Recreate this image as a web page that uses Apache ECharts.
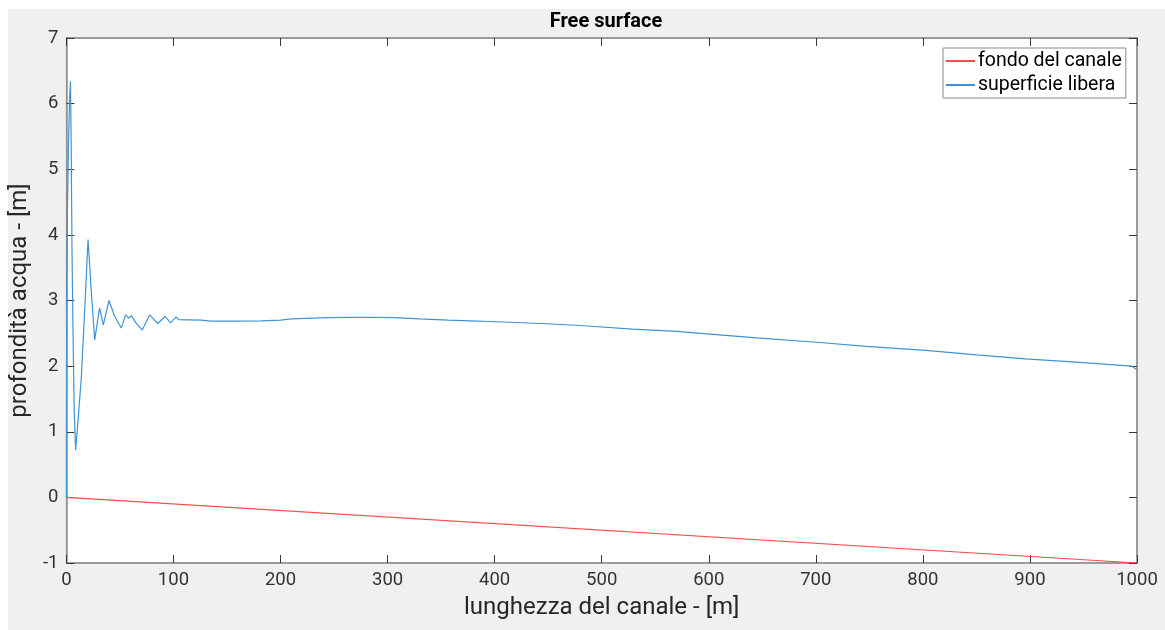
<!DOCTYPE html>
<html>
<head>
<meta charset="utf-8">
<script src="https://cdn.jsdelivr.net/npm/echarts@6/dist/echarts.min.js"></script>
<style>
html,body{margin:0;padding:0;background:#fff;}
#wrap{position:relative;width:1165px;height:630px;background:#fff;}
#bg{position:absolute;left:8px;top:9px;width:1157px;height:621px;background:#f0f0f0;}
#chart{position:absolute;left:0;top:0;width:1165px;height:630px;}
</style>
</head>
<body>
<div id="wrap"><div id="bg"></div><div id="chart"></div></div>
<script>
const titleText = 'Free surface';
const xName = 'lunghezza del canale - [m]';
const yName = 'profondità acqua - [m]';
const seriesNames = ['fondo del canale', 'superficie libera'];

const bedX = [0, 1000];
const bedY = [0, -1];

const surfX = [0, 0.3, 1, 2, 3, 3.8, 4.5, 5.2, 6.2, 7.3, 8.6, 11, 14, 17.5, 20.2, 23, 26.4, 31, 34.5, 39.8, 45, 51.3, 55.3, 58.1, 60.6, 65, 70.8, 77.7, 85.4, 92.3, 97.2, 102.5, 104.7, 115, 126, 135, 160, 182, 200, 210, 244, 275, 307, 330, 357, 377, 396, 420, 449, 483, 529, 570, 607, 645, 704, 747, 803, 850, 896, 943, 995, 1000];
const surfY = [0, 3.0, 4.4, 5.4, 6.1, 6.34, 5.3, 3.8, 2.5, 1.3, 0.72, 1.2, 1.84, 3.0, 3.93, 3.2, 2.40, 2.885, 2.63, 3.0, 2.76, 2.58, 2.78, 2.73, 2.77, 2.66, 2.55, 2.78, 2.65, 2.76, 2.66, 2.75, 2.71, 2.705, 2.70, 2.685, 2.685, 2.69, 2.70, 2.72, 2.74, 2.745, 2.74, 2.72, 2.70, 2.69, 2.68, 2.665, 2.646, 2.615, 2.565, 2.53, 2.48, 2.43, 2.36, 2.30, 2.24, 2.17, 2.11, 2.06, 2.0, 1.94];

const xMin = 0, xMax = 1000, xStep = 100;
const yMin = -1, yMax = 7, yStep = 1;

const zip = (a, b) => a.map((v, i) => [v, b[i]]);
const font = 'Roboto, "Liberation Sans", sans-serif';
const axisCol = '#8f8f8f';
const tickCol = '#3a3a3a';
const plain = v => String(v);

const chart = echarts.init(document.getElementById('chart'), null, {renderer: 'canvas'});
chart.setOption({
  backgroundColor: 'transparent',
  animation: false,
  title: {
    text: titleText, left: 601, top: 7, textAlign: 'center',
    textStyle: {fontFamily: font, fontSize: 20, fontWeight: 'bold', color: '#000'}
  },
  legend: {
    orient: 'vertical', left: 943, top: 48,
    backgroundColor: '#fff', borderColor: '#8a8a8a', borderWidth: 1, borderRadius: 0,
    padding: [3, 4, 3, 3], itemGap: 4, itemWidth: 29, itemHeight: 2, icon: 'rect',
    textStyle: {fontFamily: font, fontSize: 19.5, color: '#000', padding: [0, 0, 0, -2]},
    data: seriesNames
  },
  grid: {left: 65, right: 28, top: 38, bottom: 67, show: true, backgroundColor: '#fff', borderColor: axisCol, borderWidth: 1},
  xAxis: [{
    type: 'value', min: xMin, max: xMax, interval: xStep, position: 'bottom',
    name: xName, nameLocation: 'middle', nameGap: 33,
    nameTextStyle: {fontFamily: font, fontSize: 24, color: '#262626'},
    axisLine: {show: true, onZero: false, lineStyle: {color: axisCol, width: 1.5}},
    axisTick: {show: true, inside: true, length: 8, lineStyle: {color: tickCol}},
    axisLabel: {fontFamily: font, fontSize: 18.5, color: '#333', margin: 8, formatter: plain, showMinLabel: true, showMaxLabel: true},
    splitLine: {show: false}
  }, {
    type: 'value', min: xMin, max: xMax, interval: xStep, position: 'top',
    axisLine: {show: true, onZero: false, lineStyle: {color: axisCol, width: 1.5}},
    axisTick: {show: true, inside: true, length: 8, lineStyle: {color: tickCol}},
    axisLabel: {show: false}, splitLine: {show: false}
  }],
  yAxis: [{
    type: 'value', min: yMin, max: yMax, interval: yStep, position: 'left',
    name: yName, nameLocation: 'middle', nameGap: 28, nameRotate: 90,
    nameTextStyle: {fontFamily: font, fontSize: 24, color: '#262626'},
    axisLine: {show: true, onZero: false, lineStyle: {color: axisCol, width: 1.5}},
    axisTick: {show: true, inside: true, length: 8, lineStyle: {color: tickCol}},
    axisLabel: {fontFamily: font, fontSize: 18.5, color: '#333', margin: 8, formatter: plain},
    splitLine: {show: false}
  }, {
    type: 'value', min: yMin, max: yMax, interval: yStep, position: 'right',
    axisLine: {show: true, onZero: false, lineStyle: {color: axisCol, width: 1.5}},
    axisTick: {show: true, inside: true, length: 8, lineStyle: {color: tickCol}},
    axisLabel: {show: false}, splitLine: {show: false}
  }],
  series: [{
    name: seriesNames[0], type: 'line', data: zip(bedX, bedY),
    showSymbol: false, symbol: 'none',
    lineStyle: {color: '#ff4a4a', width: 1.2}, itemStyle: {color: '#ff4a4a'}
  }, {
    name: seriesNames[1], type: 'line', data: zip(surfX, surfY),
    showSymbol: false, symbol: 'none',
    lineStyle: {color: '#3f93d2', width: 1.2}, itemStyle: {color: '#3f93d2'}
  }]
});
</script>
</body>
</html>
